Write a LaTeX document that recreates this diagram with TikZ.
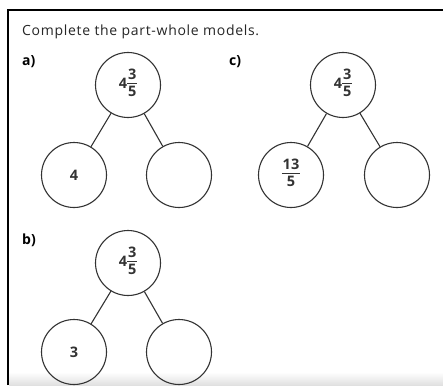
\documentclass[tikz,border=0pt]{standalone}
\usepackage{fontspec}
\setmainfont{Open Sans}
\newfontfamily\titlefont[LetterSpace=5]{Open Sans}
\usepackage{array}
\newcommand{\fracbox}[2]{{\setlength{\arrayrulewidth}{1.1pt}\renewcommand{\arraystretch}{0.9}\setlength{\tabcolsep}{0.8pt}\begin{tabular}{c}#1\\[-1pt]\hline\rule{0pt}{12pt}#2\end{tabular}}}
\newcommand{\mixedfrac}[3]{#1\hspace{0.3pt}\fracbox{#2}{#3}}
\tikzset{
  pw/.style={circle, draw=black!80, line width=1.1pt, minimum size=65pt, inner sep=0pt, font=\bfseries\fontsize{14.5}{16}\selectfont, text=black!80},
  link/.style={draw=black!80, line width=1.1pt},
  lbl/.style={anchor=north west, inner sep=0pt, font=\bfseries\fontsize{14}{15}\selectfont}
}
\begin{document}
\begin{tikzpicture}[x=1pt,y=-1pt]
\useasboundingbox (0,0) rectangle (443,385);
\fill[white] (0,0) rectangle (443,385);
\shade[top color=white, bottom color=black!12] (9,372) rectangle (443,385);
% frame
\draw[line width=2pt] (8,385) -- (8,10) -- (443,10);
% title
\node[anchor=base west, inner sep=0pt, font=\titlefont\fontsize{14}{16}\selectfont, text=black!85] (title) at (22,35.5) {Complete the part-whole models.};
% labels
\node[lbl] (la) at (22,55) {a)};
\node[lbl] (lc) at (229,55) {c)};
\node[lbl] (lb) at (22,234) {b)};
% model a
\node[pw] (at) at (128,85) {\mixedfrac{4}{3}{5}};
\node[pw] (al) at (74,175) {4};
\node[pw] (ar) at (179,175) {};
\draw[link] (at) -- (al);
\draw[link] (at) -- (ar);
% model c
\node[pw] (ct) at (343,85) {\mixedfrac{4}{3}{5}};
\node[pw] (cl) at (291,175) {\fracbox{13}{5}};
\node[pw] (cr) at (397,175) {};
\draw[link] (ct) -- (cl);
\draw[link] (ct) -- (cr);
% model b
\node[pw] (bt) at (128,263) {\mixedfrac{4}{3}{5}};
\node[pw] (bl) at (74,352) {3};
\node[pw] (br) at (179,352) {};
\draw[link] (bt) -- (bl);
\draw[link] (bt) -- (br);
\end{tikzpicture}
\end{document}
